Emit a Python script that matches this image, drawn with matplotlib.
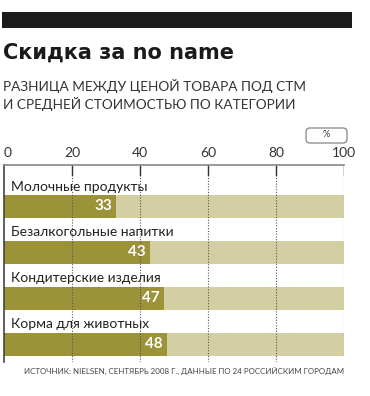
import matplotlib
matplotlib.use("Agg")
import matplotlib.pyplot as plt
from matplotlib.patches import Rectangle, FancyBboxPatch

categories = ["Молочные продукты", "Безалкогольные напитки",
              "Кондитерские изделия", "Корма для животных"]
values = [33, 43, 47, 48]
ticks = [0, 20, 40, 60, 80, 100]
title = "Скидка за no name"
subtitle = "РАЗНИЦА МЕЖДУ ЦЕНОЙ ТОВАРА ПОД СТМ\nИ СРЕДНЕЙ СТОИМОСТЬЮ ПО КАТЕГОРИИ"
source = "ИСТОЧНИК: NIELSEN, СЕНТЯБРЬ 2008 Г., ДАННЫЕ ПО 24 РОССИЙСКИМ ГОРОДАМ"

DARK = "#9c9237"
LIGHT = "#d4cea3"
W, H = 370, 396

plt.rcParams["font.family"] = ["Lato", "DejaVu Sans"]
fig = plt.figure(figsize=(W / 100, H / 100), dpi=100)

def fx(px):
    return px / W

def fy(py):
    return 1 - py / H

# black header strip
fig.patches.append(Rectangle((fx(2), fy(28)), fx(350), 16 / H, transform=fig.transFigure,
                             facecolor="#1a1a1a", edgecolor="none"))
fig.text(fx(3), fy(53), title, fontsize=15, fontweight="heavy", color="#1a1a1a",
         va="center", ha="left", family=["DejaVu Sans"])
fig.text(fx(3), fy(95), subtitle, fontsize=9.8, color="#333333", va="center", ha="left",
         linespacing=1.4)

# percent box
fig.patches.append(FancyBboxPatch((fx(306), fy(143)), fx(41), 15 / H,
                                  boxstyle="round,pad=0,rounding_size=0.01",
                                  transform=fig.transFigure, facecolor="white",
                                  edgecolor="#777777", linewidth=0.8))
fig.text(fx(326.5), fy(135), "%", fontsize=6.5, ha="center", va="center", color="#333333")

top, bottom = 165, 362
ax = fig.add_axes([fx(4), fy(bottom), fx(340), (bottom - top) / H])
ax.set_xlim(0, 100)
ax.set_ylim(bottom, top)

for i, (cat, v) in enumerate(zip(categories, values)):
    yc = 206.5 + 46 * i
    ax.barh(yc, 100, height=23, color=LIGHT, zorder=1)
    ax.barh(yc, v, height=23, color=DARK, zorder=1)
    ax.text(v - 1.2, yc, str(v), color="white", fontsize=11, fontweight="bold",
            ha="right", va="center", zorder=3)
    ax.text(2, yc - 20, cat, fontsize=10, color="#222222", ha="left", va="center", zorder=3)

for t in ticks[1:]:
    ax.axvline(t, color="#555555", linestyle=(0, (1, 1.5)), linewidth=0.8, zorder=2)
    ax.plot([t, t], [top, top + 10], color="#333333", linewidth=1.0, zorder=2)

ax.xaxis.tick_top()
ax.set_xticks(ticks)
ax.set_xticklabels([str(t) for t in ticks], fontsize=10, color="#333333")
ax.tick_params(axis="x", length=0, pad=4)
ax.get_xticklabels()[0].set_ha("left")
ax.set_yticks([])
for s in ["right", "bottom"]:
    ax.spines[s].set_visible(False)
ax.spines["top"].set_color("#888888")
ax.spines["top"].set_linewidth(1.2)
ax.spines["left"].set_color("#444444")
ax.spines["left"].set_linewidth(1.2)

fig.text(fx(184), fy(371), source, fontsize=5.7, color="#444444", ha="center", va="center")

fig.savefig("out.png", dpi=100)
